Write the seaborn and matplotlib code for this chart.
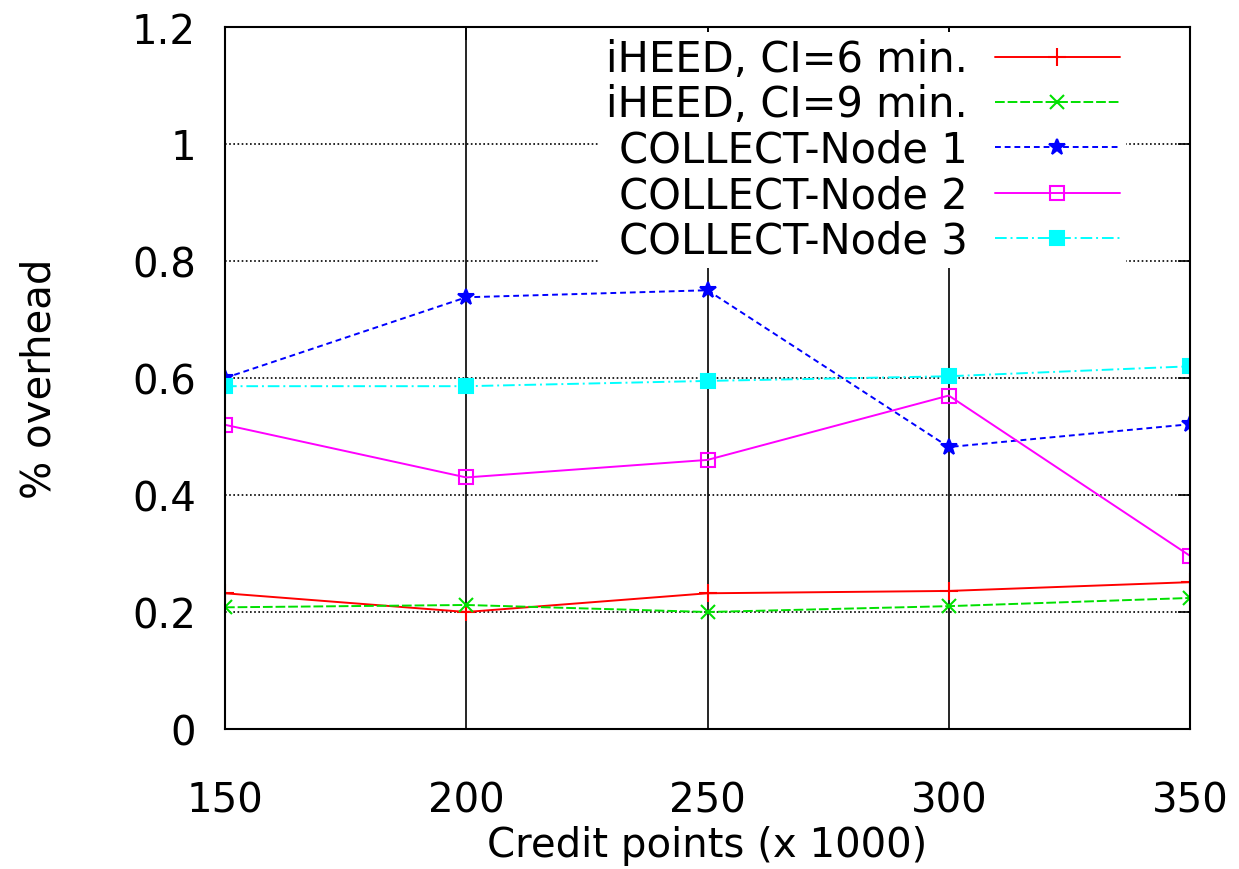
import numpy as np
import pandas as pd
import matplotlib
matplotlib.use("Agg")
import matplotlib.pyplot as plt
from matplotlib.ticker import FuncFormatter
import seaborn as sns

# values
credit_points = [150, 200, 250, 300, 350]
iheed_ci6 = [0.232, 0.200, 0.232, 0.236, 0.251]
iheed_ci9 = [0.208, 0.212, 0.200, 0.210, 0.224]
collect_node1 = [0.600, 0.738, 0.750, 0.482, 0.521]
collect_node2 = [0.520, 0.430, 0.460, 0.570, 0.296]
collect_node3 = [0.586, 0.586, 0.595, 0.603, 0.620]

series_names = ["iHEED, CI=6 min.", "iHEED, CI=9 min.",
                "COLLECT-Node 1", "COLLECT-Node 2", "COLLECT-Node 3"]
x_ticks = [150, 200, 250, 300, 350]
y_ticks = [0, 0.2, 0.4, 0.6, 0.8, 1.0, 1.2]

df = pd.DataFrame({
    "credit": credit_points * len(series_names),
    "overhead": iheed_ci6 + iheed_ci9 + collect_node1 + collect_node2 + collect_node3,
    "series": np.repeat(series_names, len(credit_points)),
})

# gnuplot-like look for each series
styles = {
    "iHEED, CI=6 min.": dict(color="#ff0000", marker="+", ls="-", mfc="#ff0000", ms=13),
    "iHEED, CI=9 min.": dict(color="#00e000", marker="x", ls=(0, (5, 1.5)), mfc="#00e000", ms=10),
    "COLLECT-Node 1": dict(color="#0000ff", marker="*", ls=(0, (3, 2)), mfc="#0000ff", ms=12),
    "COLLECT-Node 2": dict(color="#ff00ff", marker="s", ls="-", mfc="none", ms=10),
    "COLLECT-Node 3": dict(color="#00ffff", marker="s", ls=(0, (6, 2, 1, 2)), mfc="#00ffff", ms=10),
}

sns.set_theme(style="white")
plt.rcParams["font.family"] = ["DejaVu Sans"]
plt.rcParams["text.color"] = "black"
fs = 29

fig = plt.figure(figsize=(12.39, 8.70), dpi=100)
ax = fig.add_axes([225 / 1239, 140 / 870, 965 / 1239, 702 / 870])

for name in series_names:
    st = styles[name]
    sns.lineplot(data=df[df["series"] == name], x="credit", y="overhead", ax=ax,
                 label=name, color=st["color"], marker=st["marker"], linestyle=st["ls"],
                 linewidth=1.4, markersize=st["ms"], markeredgecolor=st["color"],
                 markerfacecolor=st["mfc"], markeredgewidth=1.5, errorbar=None)

ax.set_xlim(150, 350)
ax.set_ylim(0, 1.2)
ax.set_xticks(x_ticks)
ax.set_yticks(y_ticks)
ax.yaxis.set_major_formatter(FuncFormatter(lambda v, p: f"{v:g}"))

ax.set_axisbelow(True)
ax.xaxis.grid(True, color="black", linestyle="-", linewidth=1.2)
ax.yaxis.grid(True, color="black", linestyle=(0, (1, 1.5)), linewidth=1.2)

ax.tick_params(axis="both", direction="in", length=9, width=1.2, color="black",
               top=True, right=True, labelsize=fs, labelcolor="black")
ax.tick_params(axis="x", pad=37)
ax.tick_params(axis="y", pad=21)
for sp in ax.spines.values():
    sp.set_color("black")
    sp.set_linewidth(1.5)

ax.set_xlabel("Credit points (x 1000)", fontsize=fs, color="black")
ax.xaxis.set_label_coords(0.5, -0.137)
ax.set_ylabel("% overhead", fontsize=fs, color="black")
ax.yaxis.set_label_coords(-0.172, 0.5)

# key sits top right with text right-aligned before the sample lines
handles, labels = ax.get_legend_handles_labels()
leg = ax.legend(handles, labels, loc="upper right", bbox_to_anchor=(0.9337, 0.993),
                borderaxespad=0, borderpad=0.15, markerfirst=False, handlelength=3.0,
                handletextpad=0.65, labelspacing=0.08, frameon=True, fancybox=False,
                framealpha=1, fontsize=30)
leg.get_frame().set_facecolor("white")
leg.get_frame().set_edgecolor("none")
leg.set_zorder(1)
for t in leg.get_texts():
    t.set_color("black")

fig.savefig("out.png", dpi=100)
